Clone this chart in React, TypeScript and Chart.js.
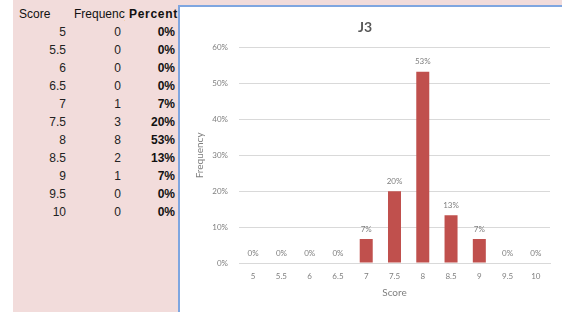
import React, { useEffect, useRef } from "react";
import { Chart, registerables } from "chart.js";

Chart.register(...registerables);

const scores = ["5", "5.5", "6", "6.5", "7", "7.5", "8", "8.5", "9", "9.5", "10"];
const frequencies = [0, 0, 0, 0, 1, 3, 8, 2, 1, 0, 0];
const percents = [0, 0, 0, 0, 6.67, 20, 53.33, 13.33, 6.67, 0, 0];
const yTicks = [0, 10, 20, 30, 40, 50, 60];

const pctText = (v: number) => Math.round(v) + "%";

const CHART_FONT = "Lato, 'Open Sans', sans-serif";

const barLabels = {
  id: "barLabels",
  afterDatasetsDraw(chart: any) {
    const ctx = chart.ctx;
    const meta = chart.getDatasetMeta(0);
    ctx.save();
    ctx.font = `8px ${CHART_FONT}`;
    ctx.fillStyle = "#7f7f7f";
    ctx.textAlign = "center";
    ctx.textBaseline = "bottom";
    meta.data.forEach((el: any, i: number) => {
      ctx.fillText(pctText(percents[i]), el.x, el.y - 6);
    });
    ctx.restore();
  },
};

function ChartBox() {
  const ref = useRef<HTMLCanvasElement>(null);
  useEffect(() => {
    if (!ref.current) return;
    const chart = new Chart(ref.current, {
      type: "bar",
      data: {
        labels: scores,
        datasets: [
          {
            data: percents,
            backgroundColor: "#c0504d",
            barPercentage: 0.46,
            categoryPercentage: 1,
          },
        ],
      },
      options: {
        animation: false,
        responsive: false,
        maintainAspectRatio: false,
        layout: { padding: { left: 0, right: 12, top: 0, bottom: 0 } },
        plugins: {
          legend: { display: false },
          tooltip: { enabled: false },
          title: {
            display: true,
            text: "J3",
            color: "#595959",
            font: { family: CHART_FONT, size: 14, weight: "bold" },
            padding: { top: 12, bottom: 12 },
          },
        },
        scales: {
          x: {
            grid: { display: false, drawTicks: false },
            border: { display: true, color: "#d9d9d9" },
            ticks: {
              color: "#7f7f7f",
              font: { family: CHART_FONT, size: 8 },
              padding: 9,
              maxRotation: 0,
            },
            title: {
              display: true,
              text: "Score",
              color: "#7f7f7f",
              font: { family: CHART_FONT, size: 10 },
              padding: { top: 0, bottom: 13 },
            },
            afterFit: (s: any) => {
              s.height = 49;
            },
          },
          y: {
            min: 0,
            max: 60,
            afterBuildTicks: (s: any) => {
              s.ticks = yTicks.map((v) => ({ value: v }));
            },
            grid: { color: "#d9d9d9", drawTicks: false },
            border: { display: false },
            ticks: {
              color: "#7f7f7f",
              font: { family: CHART_FONT, size: 8 },
              padding: 11,
              callback: (v: any) => v + "%",
            },
            title: {
              display: true,
              text: "Frequency",
              color: "#7f7f7f",
              font: { family: CHART_FONT, size: 10 },
              padding: { top: 14, bottom: 0 },
            },
            afterFit: (s: any) => {
              s.width = 59;
            },
          },
        },
      },
      plugins: [barLabels],
    } as any);
    return () => chart.destroy();
  }, []);
  return <canvas ref={ref} width={382} height={305} style={{ display: "block", width: 382, height: 305 }} />;
}

const tableFont = "'Liberation Sans', Arial, sans-serif";

export default function App() {
  const rowTop = (i: number) => 5 + i * 18;
  const cell: React.CSSProperties = { position: "absolute", fontSize: 12, lineHeight: "18px", whiteSpace: "nowrap" };
  return (
    <div
      style={{
        position: "fixed",
        left: 0,
        top: 0,
        width: 562,
        height: 312,
        overflow: "hidden",
        background: "#ffffff",
        fontFamily: tableFont,
      }}
    >
      <div style={{ position: "absolute", left: 13, top: 0, right: 0, bottom: 0, background: "#f2dcdb" }} />
      {/* header */}
      <div style={{ ...cell, left: 19, top: rowTop(0), color: "#111" }}>Score</div>
      <div style={{ ...cell, left: 74, top: rowTop(0), width: 51, overflow: "hidden", color: "#111" }}>Frequency</div>
      <div style={{ ...cell, left: 129, top: rowTop(0), color: "#111", fontWeight: "bold", letterSpacing: "0.7px" }}>Percent</div>
      {scores.map((s, i) => (
        <React.Fragment key={s}>
          <div style={{ ...cell, right: 562 - 66, top: rowTop(i + 1), color: "#222", textAlign: "right" }}>{s}</div>
          <div style={{ ...cell, right: 562 - 121, top: rowTop(i + 1), color: "#222", textAlign: "right" }}>{frequencies[i]}</div>
          <div style={{ ...cell, right: 562 - 175, top: rowTop(i + 1), color: "#111", fontWeight: "bold", textAlign: "right" }}>{pctText(percents[i])}</div>
        </React.Fragment>
      ))}
      <div
        style={{
          position: "absolute",
          left: 178,
          top: 5,
          width: 400,
          height: 320,
          background: "#ffffff",
          borderLeft: "2px solid #7fa6e0",
          borderTop: "2px solid #7fa6e0",
          boxSizing: "border-box",
        }}
      >
        <ChartBox />
      </div>
    </div>
  );
}
